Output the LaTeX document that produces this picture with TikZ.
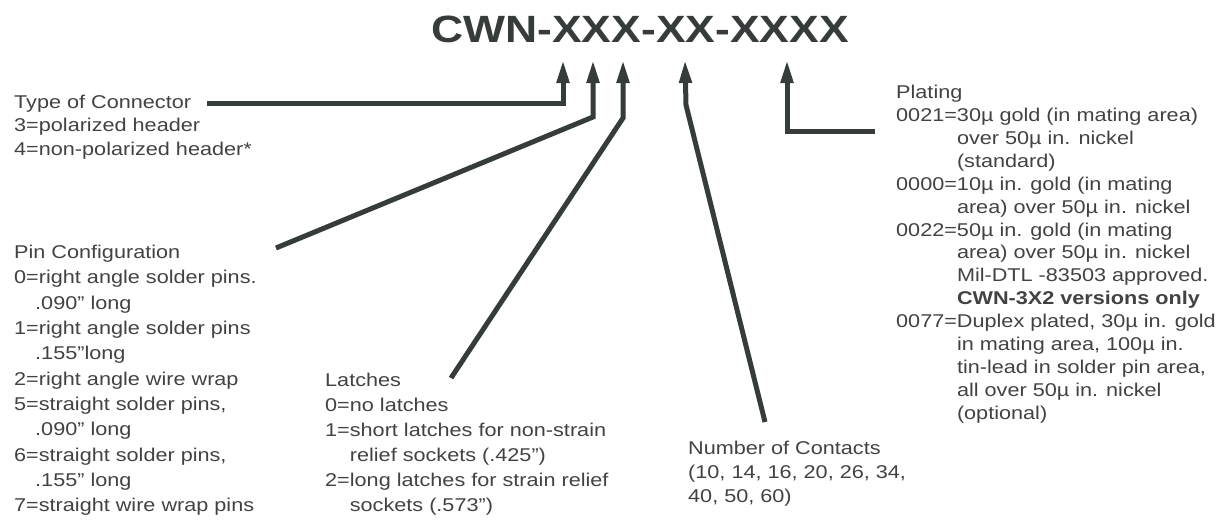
\documentclass[tikz,border=0pt]{standalone}
\usepackage{fontspec}
\setmainfont{Liberation Sans}[FakeStretch=1.17]
\usepackage{tikz}
\usetikzlibrary{arrows.meta}
\definecolor{textgrey}{HTML}{424242}
\definecolor{leadgrey}{HTML}{363B3B}

\begin{document}
\begin{tikzpicture}[x=1pt, y=-1pt,
	legend/.style={anchor=north west, inner sep=0pt, align=left, text=textgrey, font=\fontsize{18.5}{23.3}\selectfont},
	lead/.style={draw=leadgrey, line width=5pt, -{Triangle[length=23pt, width=12pt]}}]
	\useasboundingbox (0,0) rectangle (1217,519);

	\node[anchor=base, inner sep=0pt, text=leadgrey, font=\fontsize{38}{44}\selectfont\bfseries] (code) at (640,42) {CWN-XXX-XX-XXXX};

	\node[legend] (type) at (14,95) {Type of Connector\\3=polarized header\\4=non-polarized header*};
	\node[legend, font=\fontsize{18.5}{25.3}\selectfont] (pins) at (14,245) {Pin Configuration\\
		0=right angle solder pins.\\
		\hspace*{21pt}.090” long\\
		1=right angle solder pins\\
		\hspace*{21pt}.155”long\\
		2=right angle wire wrap\\
		5=straight solder pins,\\
		\hspace*{21pt}.090” long\\
		6=straight solder pins,\\
		\hspace*{21pt}.155” long\\
		7=straight wire wrap pins};
	\node[legend, font=\fontsize{18.5}{25}\selectfont] (latch) at (325,373) {Latches\\
		0=no latches\\
		1=short latches for non-strain\\
		\phantom{1=}relief sockets (.425”)\\
		2=long latches for strain relief\\
		\phantom{2=}sockets (.573”)};
	\node[legend, font=\fontsize{18.5}{24}\selectfont] (count) at (688,441) {Number of Contacts\\(10, 14, 16, 20, 26, 34,\\40, 50, 60)};
	\node[legend, font=\fontsize{18.5}{22.9}\selectfont] (plate) at (896,85) {Plating\\
		0021=30µ gold (in mating area)\\
		\phantom{0021=}over 50µ in. nickel\\
		\phantom{0021=}(standard)\\
		0000=10µ in. gold (in mating\\
		\phantom{0000=}area) over 50µ in. nickel\\
		0022=50µ in. gold (in mating\\
		\phantom{0022=}area) over 50µ in. nickel\\
		\phantom{0022=}Mil-DTL -83503 approved.\\
		\phantom{0022=}\textbf{CWN-3X2 versions only}\\
		0077=Duplex plated, 30µ in. gold\\
		\phantom{0077=}in mating area, 100µ in.\\
		\phantom{0077=}tin-lead in solder pin area,\\
		\phantom{0077=}all over 50µ in. nickel\\
		\phantom{0077=}(optional)};

	% arrow tips under the code letters
	\coordinate (tipA) at (563,60);
	\coordinate (tipB) at (593,60);
	\coordinate (tipC) at (623,60);
	\coordinate (tipD) at (685,60);
	\coordinate (tipE) at (787,60);
	% free ends beside the legends
	\coordinate (typeEnd) at (207,103);
	\coordinate (pinsEnd) at (276,248);
	\coordinate (latchEnd) at (451,378);
	\coordinate (countEnd) at (765,422);
	\coordinate (plateEnd) at (875,131);

	\draw[lead] (typeEnd) -- (563,103) -- (tipA);
	\draw[lead] (pinsEnd) -- (593,117) -- (tipB);
	\draw[lead] (latchEnd) -- (623,118) -- (tipC);
	\draw[lead] (countEnd) -- (686,105) -- (tipD);
	\draw[lead] (plateEnd) -- (787,131) -- (tipE);
\end{tikzpicture}
\end{document}
